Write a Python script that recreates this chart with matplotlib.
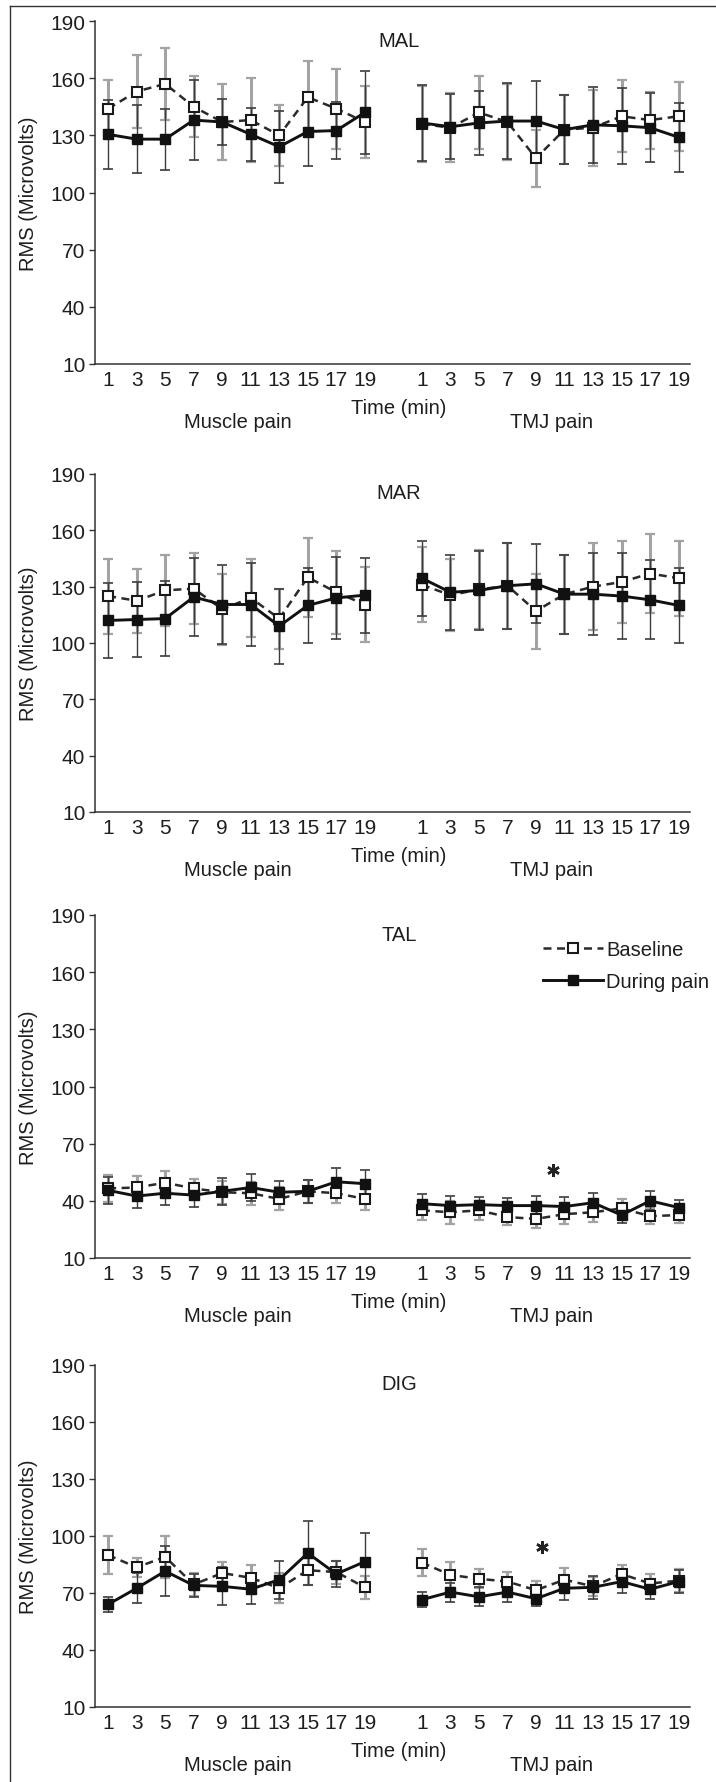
"""EMG RMS amplitude over time: baseline vs during pain, four muscles."""
import matplotlib.pyplot as plt
from matplotlib.lines import Line2D
import numpy as np

minutes = [1, 3, 5, 7, 9, 11, 13, 15, 17, 19]
conditions = ["Muscle pain", "TMJ pain"]
muscles = ["MAL", "MAR", "TAL", "DIG"]
y_ticks = [10, 40, 70, 100, 130, 160, 190]

# each list: 10 muscle-pain values followed by 10 TMJ-pain values
mal_base = [144, 153, 157, 145, 137, 138, 130, 150, 144, 137,
            136, 134, 142, 137, 118, 133, 134, 140, 138, 140]
mal_pain = [130.5, 128, 128, 138, 137, 130.5, 124, 132, 132.5, 142,
            136.5, 134.5, 136.5, 137.5, 137.5, 133, 135.5, 135, 134, 129]
mal_base_err = [15, 19, 19, 16, 20, 22, 16, 19, 21, 19,
                20, 18, 19, 20, 15, 18, 20, 19, 15, 18]
mal_pain_err = [18, 18, 16, 21, 12, 14, 19, 18, 15, 22,
                20, 17, 17, 20, 21, 18, 20, 20, 18, 18]

mar_base = [125, 122.5, 128, 129, 118, 124, 113, 135, 127, 120.5,
            131, 125.5, 128.5, 130.5, 117, 126, 130, 132.5, 137, 134.5]
mar_pain = [112, 112.5, 113, 124.5, 120.5, 120.5, 109, 120, 124, 125.5,
            134.5, 127, 128, 130.5, 131.5, 126, 126, 125, 123, 120]
mar_base_err = [20, 17, 19, 19, 19, 21, 16, 21, 22, 20,
                20, 19, 21, 23, 20, 21, 23, 22, 21, 20]
mar_pain_err = [20, 20, 20, 21, 21, 22, 20, 20, 22, 20,
                20, 20, 21, 23, 21, 21, 22, 23, 21, 20]

tal_base = [46.5, 47, 49.5, 46.5, 44.5, 44, 41, 45, 44, 41,
            35, 34, 35, 31.5, 30.5, 33, 34, 36, 32, 32.5]
tal_pain = [45.5, 42.5, 44, 43, 45, 47, 44.5, 45, 50, 49,
            38.5, 37.5, 38, 37.5, 37.5, 37, 39, 32.5, 40, 36.5]
tal_base_err = [7, 6, 6, 5, 6, 6, 6, 6, 5, 6,
                5, 6, 5, 4, 5, 5, 5, 5, 4, 4]
tal_pain_err = [7, 6, 6, 6, 7, 7, 6, 6, 7, 7,
                5, 5, 4, 4, 5, 5, 5, 4, 5, 4]

dig_base = [90, 83.5, 89, 74.5, 80.5, 78, 72.5, 82, 81, 73,
            86, 79.5, 77.5, 76, 71.5, 77, 73.5, 80, 75, 76.5]
dig_pain = [64, 72.5, 81.5, 74, 73.5, 72, 77, 91, 80, 86.5,
            66.5, 70.5, 68, 70.5, 67, 72.5, 73, 76, 72, 76]
dig_base_err = [10, 5, 11, 6, 6, 7, 8, 8, 6, 6,
                7, 7, 5, 5, 5, 6, 5, 5, 5, 6]
dig_pain_err = [4, 8, 13, 6, 10, 8, 10, 17, 7, 15,
                4, 5, 5, 5, 4, 6, 6, 6, 5, 6]

# significance stars: (TMJ minute, RMS) per muscle
stars = {"TAL": (10.2, 56), "DIG": (9.4, 94)}

TEXT = "#1e1e1e"
FONT = ["Liberation Sans", "DejaVu Sans"]
FS = 14.5

# axes boxes in figure pixels (top, bottom) of a 716 x 1783 figure
W, H = 716, 1783
AX_LEFT, AX_RIGHT = 95, 690
PANEL_Y = [(22, 365), (475, 813), (916, 1259), (1366, 1708)]


def minute_pos(minute, group):
    """Map a minute within a condition group to an x position."""
    return (np.asarray(minute) - 1) / 2.0 + group * 11


def draw_panel(ax, name, base, pain, base_err, pain_err, legend=False):
    base, pain = np.array(base), np.array(pain)
    base_err, pain_err = np.array(base_err), np.array(pain_err)
    for g in range(2):
        seg = slice(g * 10, g * 10 + 10)
        x = minute_pos(minutes, g)
        ax.errorbar(x, base[seg], yerr=base_err[seg], fmt="none",
                    ecolor="#a3a3a3", elinewidth=2.2, capsize=3.3,
                    capthick=1.6, zorder=1)
        ax.errorbar(x, pain[seg], yerr=pain_err[seg], fmt="none",
                    ecolor="#3c3c3c", elinewidth=1.0, capsize=3.3,
                    capthick=1.2, zorder=2)
        ax.plot(x, base[seg], ls=(0, (3.2, 2.2)), color="#2a2a2a", lw=1.8,
                marker="s", ms=7.5, mfc="white", mec="#1a1a1a", mew=1.5,
                zorder=3, label="Baseline" if g == 0 else None)
        ax.plot(x, pain[seg], "-", color="#111111", lw=2.1, marker="s",
                ms=7.5, mfc="#111111", mec="#111111", zorder=4,
                label="During pain" if g == 0 else None)

    ax.set_xlim(-0.46, 20.4)
    ax.set_ylim(10, 190)
    ax.set_yticks(y_ticks)
    ax.set_xticks(np.concatenate([minute_pos(minutes, 0), minute_pos(minutes, 1)]))
    ax.set_xticklabels([str(m) for m in minutes] * 2)
    ax.tick_params(axis="x", length=0, pad=4.5, labelsize=15, labelcolor=TEXT)
    ax.tick_params(axis="y", length=4, width=1, pad=3, labelsize=15,
                   labelcolor=TEXT, color="#333333")
    for side in ("top", "right"):
        ax.spines[side].set_visible(False)
    for side in ("left", "bottom"):
        ax.spines[side].set_color("#333333")
        ax.spines[side].set_linewidth(1.1)

    ax.text(10.2, 180, name, ha="center", va="center", fontsize=FS, color=TEXT)
    ax.set_ylabel("RMS (Microvolts)", fontsize=FS, color=TEXT)
    ax.yaxis.set_label_coords(-0.095, 0.5)

    xaxis = ax.get_xaxis_transform()
    ax.annotate("Time (min)", xy=(10.2, 0), xycoords=xaxis, xytext=(0, -31),
                textcoords="offset points", ha="center", va="center",
                fontsize=FS, color=TEXT)
    for g, cond in enumerate(conditions):
        ax.annotate(cond, xy=(4.55 + g * 11, 0), xycoords=xaxis, xytext=(0, -41.5),
                    textcoords="offset points", ha="center", va="center",
                    fontsize=FS, color=TEXT)

    if name in stars:
        m, v = stars[name]
        ax.plot(minute_pos(m, 1), v, marker=(6, 2, 0), ms=9, mew=1.8,
                color="#222222", ls="none")

    if legend:
        ax.legend(loc="upper left", bbox_to_anchor=(0.753, 0.926),
                  borderaxespad=0, borderpad=0, frameon=False,
                  handlelength=3.0, handletextpad=0.15, labelspacing=0.65,
                  numpoints=1, fontsize=FS, labelcolor=TEXT)


def main():
    plt.rcParams["font.family"] = FONT
    fig = plt.figure(figsize=(W / 100, H / 100), dpi=100)

    panels = [
        (mal_base, mal_pain, mal_base_err, mal_pain_err),
        (mar_base, mar_pain, mar_base_err, mar_pain_err),
        (tal_base, tal_pain, tal_base_err, tal_pain_err),
        (dig_base, dig_pain, dig_base_err, dig_pain_err),
    ]
    for i, (name, data) in enumerate(zip(muscles, panels)):
        top, bottom = PANEL_Y[i]
        ax = fig.add_axes([AX_LEFT / W, 1 - bottom / H,
                           (AX_RIGHT - AX_LEFT) / W, (bottom - top) / H])
        draw_panel(ax, name, *data, legend=(name == "TAL"))

    # frame around the figure (top and left edges visible)
    fx, fy = 10 / W, 1 - 7 / H
    fig.add_artist(Line2D([fx, 1], [fy, fy], color="#333333", lw=1.0))
    fig.add_artist(Line2D([fx, fx], [fy, 0], color="#333333", lw=1.0))

    fig.savefig("out.png", dpi=100)


if __name__ == "__main__":
    main()
